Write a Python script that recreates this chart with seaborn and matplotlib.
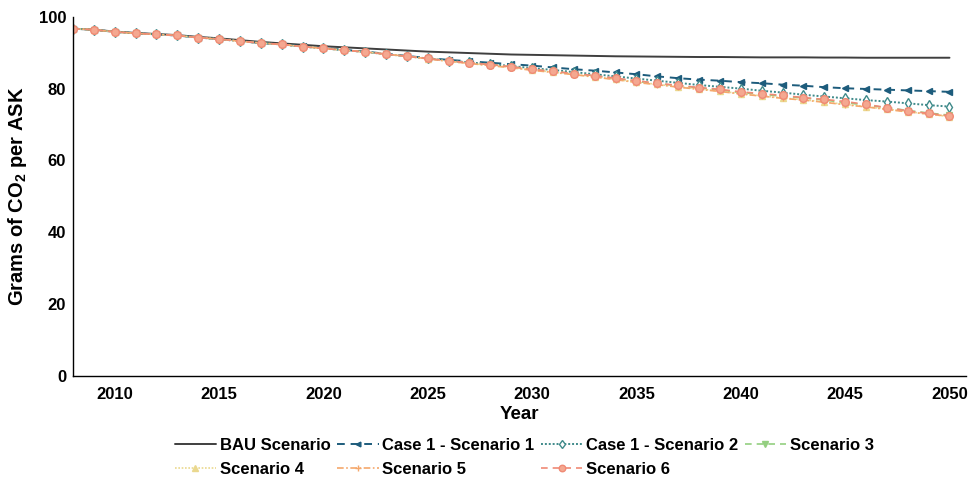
import numpy as np
import pandas as pd
import matplotlib
matplotlib.use("Agg")
import matplotlib.pyplot as plt
import seaborn as sns

years = list(range(2008, 2051))

bau = [96.7, 96.4, 95.9, 95.5, 95.2, 94.9, 94.4, 94.0, 93.5, 93.0,
       92.6, 92.2, 91.8, 91.5, 91.2, 90.9, 90.6, 90.3, 90.1, 89.9,
       89.7, 89.5, 89.4, 89.3, 89.2, 89.1, 89.0, 88.95, 88.9, 88.85,
       88.8, 88.8, 88.75, 88.7, 88.7, 88.7, 88.65, 88.65, 88.6, 88.6,
       88.6, 88.6, 88.6]
case1_s1 = [96.7, 96.4, 95.8, 95.4, 95.1, 94.8, 94.2, 93.8, 93.2, 92.7,
            92.3, 91.8, 91.3, 90.8, 90.3, 89.7, 89.1, 88.5, 88.0, 87.6,
            87.2, 86.8, 86.4, 85.9, 85.4, 85.0, 84.5, 84.0, 83.4, 82.9,
            82.5, 82.2, 81.8, 81.5, 81.1, 80.8, 80.4, 80.1, 79.9, 79.7,
            79.5, 79.3, 79.1]
case1_s2 = [96.7, 96.4, 95.8, 95.4, 95.1, 94.8, 94.2, 93.8, 93.2, 92.7,
            92.3, 91.7, 91.2, 90.7, 90.2, 89.6, 89.0, 88.4, 87.8, 87.3,
            86.8, 86.3, 85.7, 85.2, 84.6, 84.0, 83.4, 82.8, 82.2, 81.6,
            81.0, 80.5, 80.0, 79.4, 78.9, 78.3, 77.8, 77.3, 76.8, 76.4,
            75.9, 75.4, 75.0]
scen3 = [96.7, 96.4, 95.8, 95.4, 95.1, 94.8, 94.2, 93.8, 93.2, 92.7,
         92.3, 91.7, 91.2, 90.7, 90.2, 89.6, 89.0, 88.4, 87.7, 87.2,
         86.7, 86.1, 85.4, 84.8, 84.2, 83.6, 82.8, 82.0, 81.4, 80.8,
         80.2, 79.6, 78.9, 78.4, 77.9, 77.4, 76.8, 76.1, 75.4, 74.7,
         73.9, 73.2, 72.6]
scen4 = [96.7, 96.4, 95.8, 95.4, 95.1, 94.8, 94.2, 93.8, 93.2, 92.7,
         92.3, 91.7, 91.2, 90.7, 90.2, 89.6, 89.0, 88.3, 87.6, 87.0,
         86.5, 85.9, 85.2, 84.6, 84.0, 83.3, 82.6, 81.8, 81.2, 80.5,
         79.9, 79.3, 78.6, 78.0, 77.4, 76.9, 76.3, 75.6, 75.0, 74.3,
         73.6, 72.9, 72.2]
scen5 = [96.7, 96.4, 95.8, 95.4, 95.1, 94.8, 94.2, 93.8, 93.2, 92.7,
         92.3, 91.7, 91.2, 90.7, 90.2, 89.6, 89.0, 88.3, 87.6, 87.0,
         86.4, 85.8, 85.1, 84.5, 83.9, 83.2, 82.5, 81.7, 81.1, 80.4,
         79.8, 79.2, 78.5, 77.9, 77.3, 76.8, 76.2, 75.5, 74.9, 74.2,
         73.5, 72.9, 72.3]
scen6 = [96.7, 96.4, 95.8, 95.4, 95.1, 94.8, 94.2, 93.8, 93.2, 92.7,
         92.3, 91.7, 91.2, 90.7, 90.2, 89.6, 89.0, 88.4, 87.7, 87.2,
         86.7, 86.1, 85.4, 84.8, 84.2, 83.6, 82.9, 82.2, 81.5, 80.9,
         80.3, 79.8, 79.1, 78.6, 78.1, 77.5, 77.0, 76.4, 75.6, 74.7,
         73.8, 73.1, 72.4]

names = ["BAU Scenario", "Case 1 - Scenario 1", "Case 1 - Scenario 2",
         "Scenario 3", "Scenario 4", "Scenario 5", "Scenario 6"]
series = [bau, case1_s1, case1_s2, scen3, scen4, scen5, scen6]

styles = {
    "BAU Scenario": dict(color="#3f3f3f", ls="-", marker=None, mfc=None, lw=1.4, ms=5),
    "Case 1 - Scenario 1": dict(color="#1d5c7c", ls=(0, (4, 3)), marker="<", mfc="#1d5c7c", lw=1.4, ms=4),
    "Case 1 - Scenario 2": dict(color="#3f8a8a", ls=(0, (1, 1)), marker="d", mfc="white", lw=1.4, ms=5),
    "Scenario 3": dict(color="#94cf80", ls=(0, (4, 3)), marker="v", mfc="#94cf80", lw=1.2, ms=5),
    "Scenario 4": dict(color="#ead88e", ls=(0, (1, 1)), marker="^", mfc="#ead88e", lw=1.2, ms=5),
    "Scenario 5": dict(color="#f5a86c", ls=(0, (4, 1.5, 1, 1.5)), marker="+", mfc="#f5a86c", lw=1.2, ms=5),
    "Scenario 6": dict(color="#f08a75", ls=(0, (4, 3)), marker="o", mfc="#f4a890", lw=1.2, ms=5.5),
}

sns.set_style("white")
plt.rcParams["font.family"] = ["Liberation Sans", "DejaVu Sans"]
plt.rcParams["font.weight"] = "bold"
plt.rcParams["text.color"] = "black"
plt.rcParams["axes.labelcolor"] = "black"
plt.rcParams["xtick.color"] = "black"
plt.rcParams["ytick.color"] = "black"
plt.rcParams["mathtext.fontset"] = "custom"
plt.rcParams["mathtext.rm"] = "Liberation Sans:bold"
plt.rcParams["mathtext.bf"] = "Liberation Sans:bold"
plt.rcParams["mathtext.default"] = "bf"

fig = plt.figure(figsize=(9.73, 4.8), dpi=100)
ax = fig.add_axes([0.075, 0.217, 0.918, 0.748])

handles = {}
for name, vals in zip(names, series):
    st = styles[name]
    df = pd.DataFrame({"Year": years, "Value": vals})
    sns.lineplot(data=df, x="Year", y="Value", ax=ax, color=st["color"],
                 linewidth=st["lw"], marker=st["marker"], markersize=st["ms"],
                 markerfacecolor=st["mfc"], markeredgecolor=st["color"],
                 markeredgewidth=1.0, label=name)
    line = ax.get_lines()[-1]
    line.set_linestyle(st["ls"])
    handles[name] = line

ax.set_xlim(2008, 2050.8)
ax.set_ylim(0, 100)
ax.set_xticks(list(range(2010, 2051, 5)))
ax.set_yticks([0, 20, 40, 60, 80, 100])
ax.tick_params(axis="both", length=0, labelsize=12, colors="black")
ax.tick_params(axis="x", pad=8)
ax.tick_params(axis="y", pad=5)
for lab in ax.get_xticklabels() + ax.get_yticklabels():
    lab.set_fontweight("bold")
ax.set_xlabel("Year", fontsize=13.5, fontweight="bold", labelpad=3, color="black")
ax.set_ylabel(r"Grams of CO$_2$ per ASK", fontsize=14.5, fontweight="bold", labelpad=7, color="black")

for s in ["top", "right"]:
    ax.spines[s].set_visible(False)
for s in ["left", "bottom"]:
    ax.spines[s].set_color("black")
    ax.spines[s].set_linewidth(1.0)

order = ["BAU Scenario", "Scenario 4", "Case 1 - Scenario 1", "Scenario 5",
         "Case 1 - Scenario 2", "Scenario 6", "Scenario 3"]
leg = ax.legend([handles[n] for n in order], order, loc="upper center",
                bbox_to_anchor=(0.505, -0.13), ncol=4, frameon=False,
                handlelength=2.5, handletextpad=0.2,
                columnspacing=0.4, labelspacing=0.55, markerscale=0.85,
                prop={"weight": "bold", "size": 12})
for t in leg.get_texts():
    t.set_color("black")

fig.savefig("out.png", dpi=100)
